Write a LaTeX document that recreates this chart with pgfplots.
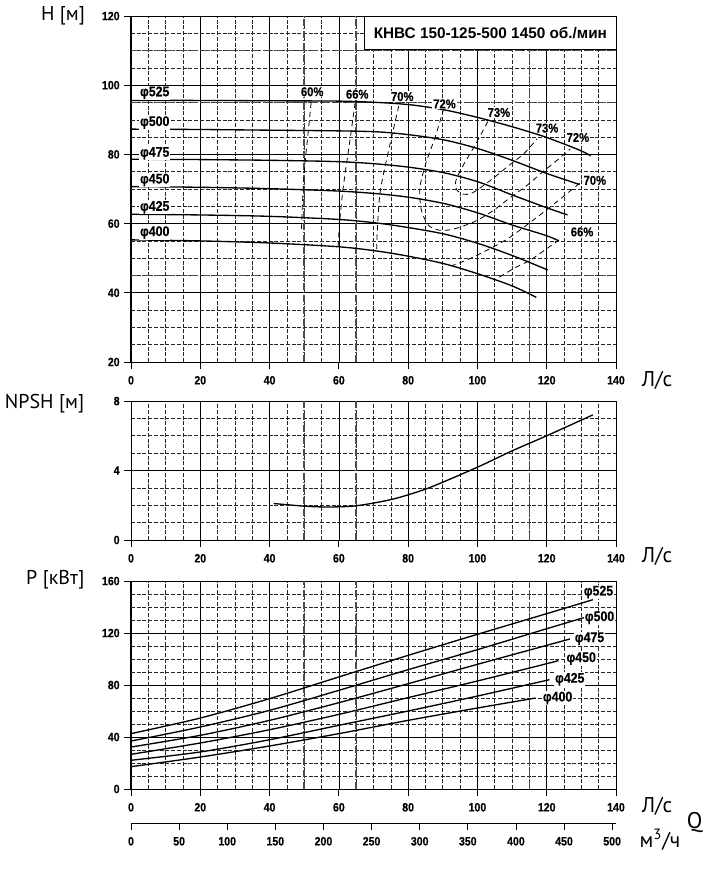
\documentclass[border=0pt]{standalone}
\usepackage{pgfplots}
\pgfplotsset{compat=1.18}
\usepackage{fontspec}
\setmainfont{Liberation Sans}
\newfontfamily\tickfont[FakeStretch=0.88,FakeBold=0.3]{Liberation Sans Bold}
\newfontfamily\labfont{PT Sans}
\pgfplotscreateplotcyclelist{hc}{black,solid,line width=1pt,smooth,mark=none\\}
\pgfplotsset{
  chart/.style={
    scale only axis, width=363.75pt, anchor=south west,
    xmin=0, xmax=140, xtick={0,20,...,140}, minor x tick num=3,
    grid=both,
    major grid style={black, line width=0.5pt},
    minor grid style={black!85, line width=0.45pt, dash pattern=on 3pt off 1.3pt},
    axis line style={black, line width=0.75pt},
    tick style={black, line width=0.6pt},
    major tick length=5pt, minor tick length=0pt,
    tick align=outside, xtick pos=bottom, ytick pos=left,
    ticklabel style={font=\tickfont\fontsize{9}{10}\selectfont},
    xticklabel style={yshift=-2pt},
    /pgf/number format/assume math mode=true,
    extra x ticks={50,65,115}, extra x tick labels={},
    extra x tick style={grid=major, major tick length=0pt, major grid style={black!70, line width=1.1pt, dash pattern=on 5pt off 1.5pt on 1pt off 1.5pt}},
    extra y tick style={grid=major, major tick length=0pt, major grid style={black!70, line width=1.1pt, dash pattern=on 5pt off 1.5pt on 1pt off 1.5pt}},
    cycle list name=hc,
  },
  effc/.style={black, line width=0.6pt, dash pattern=on 4pt off 3pt, smooth, mark=none},
}
\tikzset{
  plab/.style={font=\tickfont\fontsize{9.6}{10}\selectfont, inner sep=0.6pt, fill=white},
  dlab/.style={font=\tickfont\fontsize{10.5}{11}\selectfont, inner sep=0.6pt, fill=white, anchor=west},
}
\begin{document}
\begin{tikzpicture}
\useasboundingbox (0,0) rectangle (535.5pt,-669.75pt);

% ---------- H(Q) ----------
\begin{axis}[chart, at={(98.25pt,-271.5pt)}, height=259.5pt,
  ymin=20, ymax=120, ytick={20,40,...,120}, minor y tick num=3,
  extra y ticks={45,95,110}, extra y tick labels={}]
\addplot coordinates {(0,95.6) (20,95.6) (40,95.5) (60,95.4) (71.5,95.0) (81,94.3) (90.8,92.8) (100.4,90.6) (110,88) (119.7,85) (129.3,81.3) (132.7,79.6)};
\addplot coordinates {(0,87.3) (20,87.2) (40,87.0) (60,86.8) (71.5,86.5) (81,85.6) (90.8,84.1) (100.4,81.6) (110,78.3) (119.7,74.6) (129.5,71.3)};
\addplot coordinates {(0,78.6) (20,78.5) (40,78.3) (60,77.9) (71.5,77.2) (81,76.2) (90.8,74.6) (100.4,72) (110,68.3) (119.7,64.7) (126,62.5)};
\addplot coordinates {(0,70.7) (20,70.5) (40,70.1) (60,69.4) (71.5,68.6) (81,67.5) (90.8,65.7) (100.4,63) (110,59.6) (119.7,56.6) (123.3,55.1)};
\addplot coordinates {(0,62.7) (20,62.5) (40,62.1) (60,61.2) (71.5,60.1) (81,58.7) (90.8,56.9) (100.4,54.2) (110,50.8) (120.3,46.6)};
\addplot coordinates {(0,55.3) (20,55.0) (40,54.4) (60,53.3) (71.5,52) (81,50.4) (90.8,48.3) (100.4,45.4) (110,42) (117,38.7)};
% efficiency
\addplot[effc] coordinates {(52,95) (51,85) (50.1,76) (49.5,66) (49.2,57.5)};
\addplot[effc] coordinates {(64.7,95) (62.9,82) (61.2,70) (60.2,60) (59.8,53.3)};
\addplot[effc] coordinates {(77.3,94) (74.4,81.3) (72,69.7) (71.2,60) (70.9,52.4)};
\addplot[effc] coordinates {(90.3,93.3) (87.8,85) (85.3,78) (83.4,70.5) (83.8,64) (85.8,59.6) (89,58.1) (93,58.4) (99,60.5) (104,63.4) (109.2,67.3) (114.5,71.2) (118.3,74.5) (123.1,78.4) (126.8,81.6)};
\addplot[effc] coordinates {(103,89.5) (99.5,83) (96,77) (93.8,72.5) (94,69.8) (96,68.5) (98.6,68.9) (103.9,72.6) (109.2,76.9) (113.5,80.3) (117.2,84.5)};
\addplot[effc] coordinates {(129.5,71.7) (126,68.8) (117.4,62) (108.2,55.3) (98.1,50) (92.5,47.8)};
\addplot[effc] coordinates {(123.6,55.3) (120.2,52.9) (115.3,49.5) (110.6,47.1) (105.8,44.2) (105,43.8)};
\node[plab] at (axis cs:52.3,98.1) {60\%};
\node[plab] at (axis cs:65.3,97.4) {66\%};
\node[plab] at (axis cs:78.3,96.7) {70\%};
\node[plab] at (axis cs:90.5,94.6) {72\%};
\node[plab] at (axis cs:106.2,92.1) {73\%};
\node[plab] at (axis cs:120.1,87.6) {73\%};
\node[plab] at (axis cs:129,84.9) {72\%};
\node[plab] at (axis cs:133.9,72.5) {70\%};
\node[plab] at (axis cs:130.2,57.6) {66\%};
\node[dlab] at (axis cs:2.3,97.8) {φ525};
\node[dlab] at (axis cs:2.3,89.2) {φ500};
\node[dlab] at (axis cs:2.3,80.3) {φ475};
\node[dlab] at (axis cs:2.3,72.6) {φ450};
\node[dlab] at (axis cs:2.3,64.7) {φ425};
\node[dlab] at (axis cs:2.3,57.4) {φ400};
\draw[fill=white, line width=0.6pt] (axis cs:67.5,110.3) rectangle (axis cs:140,120);
\node[font=\bfseries\fontsize{11.5}{12}\selectfont] at (axis cs:103.75,115.15) {КНВС 150-125-500 1450 об./мин};
\end{axis}

% ---------- NPSH ----------
\begin{axis}[chart, at={(98.25pt,-405pt)}, height=104.25pt,
  ymin=0, ymax=8, ytick={0,4,8}, minor y tick num=3]
\addplot coordinates {(41.2,2.1) (50,1.95) (57,1.9) (65,1.97) (74,2.28) (80,2.6) (87,3.08) (100,4.19) (110,5.13) (120,6.0) (133.3,7.2)};
\end{axis}

% ---------- P ----------
\begin{axis}[chart, at={(98.25pt,-591.75pt)}, height=156pt,
  ymin=0, ymax=160, ytick={0,40,...,160}, minor y tick num=3]
\addplot coordinates {(0,42.6) (20,54.6) (40,69.5) (60,86.2) (80,102.8) (100,119) (120,134.9) (133.3,145.6)};
\addplot coordinates {(0,36.9) (20,47.7) (40,60.5) (60,75.9) (80,91.8) (100,107.2) (120,123.3) (130.7,131.8)};
\addplot coordinates {(0,32.3) (20,41.3) (40,52.8) (60,66.4) (80,81) (100,95.9) (120,110.5) (126.7,115.4)};
\addplot coordinates {(0,26.7) (20,35.4) (40,45.6) (60,57.4) (80,70.3) (100,83.1) (120,96.4) (123.4,98.8)};
\addplot coordinates {(0,22.1) (20,28.5) (40,37.9) (60,49) (80,60) (100,71.5) (120.8,84.1)};
\addplot coordinates {(0,17.2) (20,24.6) (40,33.1) (60,42.6) (80,52.8) (100,62.3) (116.8,70)};
\node[dlab] at (axis cs:130.4,151.5) {φ525};
\node[dlab] at (axis cs:130.7,131.8) {φ500};
\node[dlab] at (axis cs:127.8,115.6) {φ475};
\node[dlab] at (axis cs:125.4,100.3) {φ450};
\node[dlab] at (axis cs:122.1,84.4) {φ425};
\node[dlab] at (axis cs:118.6,70) {φ400};
\end{axis}

% ---------- m3/h scale ----------
\begin{axis}[scale only axis, width=363.75pt, height=10pt, anchor=south west,
  at={(98.25pt,-617.25pt)}, xmin=0, xmax=504, ymin=0, ymax=1,
  xtick={0,50,...,500}, axis x line=bottom, axis y line=none,
  x axis line style={-, black, line width=0.75pt},
  tick style={black, line width=0.6pt}, major tick length=5pt, tick align=outside,
  ticklabel style={font=\tickfont\fontsize{9}{10}\selectfont},
  xticklabel style={yshift=-2pt},
  /pgf/number format/assume math mode=true]
\addplot[draw=none] coordinates {(0,0)};
\end{axis}

% ---------- titles ----------
\node[font=\labfont\fontsize{15}{16}\selectfont] at (47.25pt,-12pt) {H [м]};
\node[font=\labfont\fontsize{15}{16}\selectfont] at (33.4pt,-303pt) {NPSH [м]};
\node[font=\labfont\fontsize{15}{16}\selectfont] at (41.5pt,-435pt) {P [кВт]};
\node[font=\labfont\fontsize{16}{17}\selectfont] at (492.75pt,-285pt) {Л/с};
\node[font=\labfont\fontsize{16}{17}\selectfont] at (492.75pt,-417pt) {Л/с};
\node[font=\labfont\fontsize{16}{17}\selectfont] at (492.75pt,-604.5pt) {Л/с};
\node[font=\labfont\fontsize{17}{18}\selectfont] at (521pt,-616.5pt) {Q};
\node[font=\labfont\fontsize{16}{17}\selectfont] at (495pt,-630pt) {м\textsuperscript{3}/ч};
\end{tikzpicture}
\end{document}
